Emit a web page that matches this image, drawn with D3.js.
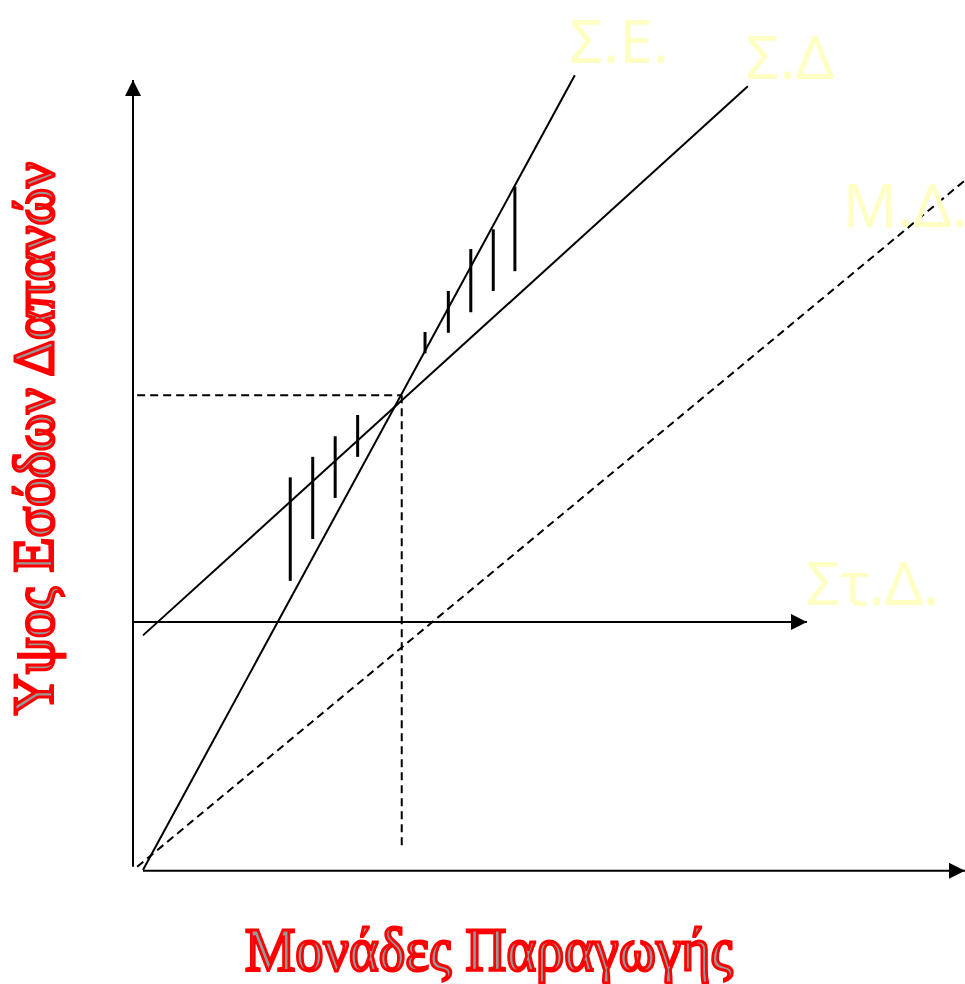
<!DOCTYPE html>
<html><head><meta charset="utf-8">
<script src="https://cdn.jsdelivr.net/npm/d3@7"></script>
<style>html,body{margin:0;padding:0;background:#fff;overflow:hidden}</style>
</head><body>
<svg id="c" width="965" height="984"></svg>
<script>
// Abstract units: x 0..100, y 0..100
const solidLines = [
  {name: "Σ.Ε.", x1: 1.2, y1: 0, x2: 53.1, y2: 100.6},
  {name: "Σ.Δ", x1: 1.2, y1: 29.7, x2: 73.9, y2: 99.2}
];
const dashedLines = [
  {name: "Μ.Δ.", x1: 0.5, y1: 0.4, x2: 100, y2: 87.3},
  {name: "eqH", x1: 0.5, y1: 60.1, x2: 32.3, y2: 60.1},
  {name: "eqV", x1: 32.3, y1: 60.1, x2: 32.3, y2: 2.5}
];
const autonomousSpending = {name: "Στ.Δ.", y: 31.4, xEnd: 81.0};
const hatchX  = [18.9, 21.6, 24.3, 27.0, 35.1, 37.9, 40.6, 43.3, 45.9];
const hatchY1 = [49.7, 52.3, 54.9, 57.6, 68.1, 73.3, 78.6, 81.1, 86.5];
const hatchY2 = [36.6, 41.9, 47.1, 52.3, 65.4, 68.0, 70.6, 73.3, 75.8];
const lineLabels = [
  {text: "Σ.Ε.", x: 52.4, y: 102.2},
  {text: "Σ.Δ", x: 73.6, y: 100.1},
  {text: "Μ.Δ.", x: 85.3, y: 81.4},
  {text: "Στ.Δ.", x: 80.9, y: 33.5}
];
const xTitle = "Μονάδες Παραγωγής";
const yTitle = "Υψος Εσόδων Δαπανών";

const svg = d3.select("#c");
const x = d3.scaleLinear().domain([0, 100]).range([133, 965]);
const y = d3.scaleLinear().domain([0, 100]).range([870, 80]);

const defs = svg.append("defs");
defs.append("marker").attr("id", "arr").attr("viewBox", "0 0 16 16")
  .attr("refX", 16).attr("refY", 8).attr("markerWidth", 16).attr("markerHeight", 16)
  .attr("markerUnits", "userSpaceOnUse").attr("orient", "auto")
  .append("path").attr("d", "M0,0 L16,8 L0,16 Z").attr("fill", "#000");

// axes
svg.append("line").attr("x1", x(0)).attr("y1", y(0.4)).attr("x2", x(0)).attr("y2", y(100))
  .attr("stroke", "#000").attr("stroke-width", 2).attr("marker-end", "url(#arr)");
svg.append("line").attr("x1", x(1.2)).attr("y1", y(-0.1)).attr("x2", x(100)).attr("y2", y(-0.1))
  .attr("stroke", "#000").attr("stroke-width", 2).attr("marker-end", "url(#arr)");

// Στ.Δ horizontal
svg.append("line").attr("x1", x(0)).attr("y1", y(autonomousSpending.y))
  .attr("x2", x(autonomousSpending.xEnd)).attr("y2", y(autonomousSpending.y))
  .attr("stroke", "#000").attr("stroke-width", 2).attr("marker-end", "url(#arr)");

svg.selectAll(".sl").data(solidLines).join("line").attr("class", "sl")
  .attr("x1", d => x(d.x1)).attr("y1", d => y(d.y1))
  .attr("x2", d => x(d.x2)).attr("y2", d => y(d.y2))
  .attr("stroke", "#000").attr("stroke-width", 2);

svg.selectAll(".dl").data(dashedLines).join("line").attr("class", "dl")
  .attr("x1", d => x(d.x1)).attr("y1", d => y(d.y1))
  .attr("x2", d => x(d.x2)).attr("y2", d => y(d.y2))
  .attr("stroke", "#000").attr("stroke-width", 2).attr("stroke-dasharray", "8,5");

svg.selectAll(".h").data(hatchX).join("line").attr("class", "h")
  .attr("x1", d => x(d)).attr("x2", d => x(d))
  .attr("y1", (d, i) => y(hatchY1[i])).attr("y2", (d, i) => y(hatchY2[i]))
  .attr("stroke", "#000").attr("stroke-width", 3);

svg.selectAll(".lbl").data(lineLabels).join("text").attr("class", "lbl")
  .attr("x", d => x(d.x)).attr("y", d => y(d.y))
  .attr("font-family", "Noto Sans, Open Sans, sans-serif").attr("font-size", 60)
  .attr("fill", "#FFFFC4").text(d => d.text);

// titles
svg.append("text").attr("x", 245).attr("y", 970)
  .attr("font-family", "Liberation Serif, serif").attr("font-size", 62)
  .attr("textLength", 488).attr("lengthAdjust", "spacingAndGlyphs")
  .attr("fill", "#999").attr("stroke", "#F00").attr("stroke-width", 3)
  .text(xTitle);

svg.append("text").attr("transform", "translate(53,715) rotate(-90)")
  .attr("font-family", "Liberation Serif, serif").attr("font-size", 57)
  .attr("textLength", 553).attr("lengthAdjust", "spacingAndGlyphs")
  .attr("fill", "#999").attr("stroke", "#F00").attr("stroke-width", 3)
  .text(yTitle);
</script>
</body></html>
